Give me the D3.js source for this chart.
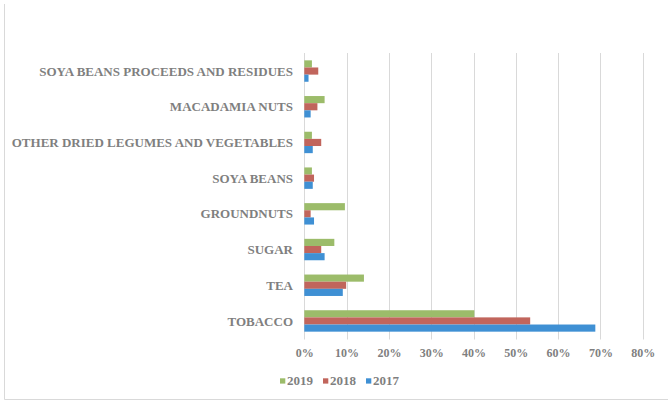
<!DOCTYPE html>
<html>
<head>
<meta charset="utf-8">
<script src="https://cdn.jsdelivr.net/npm/d3@7"></script>
<style>
  html, body { margin: 0; padding: 0; background: #fff; }
  svg { display: block; }
  text { font-family: "Liberation Serif", "Times New Roman", serif; font-weight: bold; fill: #7f7f7f; }
</style>
</head>
<body>
<svg id="chart" width="668" height="401"></svg>
<script>
// Export shares by commodity (fraction of total), listed top to bottom
const categories = [
  "SOYA BEANS PROCEEDS AND RESIDUES",
  "MACADAMIA NUTS",
  "OTHER DRIED LEGUMES AND VEGETABLES",
  "SOYA BEANS",
  "GROUNDNUTS",
  "SUGAR",
  "TEA",
  "TOBACCO"
];
const years = ["2019", "2018", "2017"];
const values2019 = [0.018, 0.048, 0.018, 0.018, 0.096, 0.071, 0.141, 0.402];
const values2018 = [0.033, 0.031, 0.040, 0.023, 0.015, 0.040, 0.099, 0.534];
const values2017 = [0.010, 0.015, 0.020, 0.020, 0.023, 0.048, 0.091, 0.688];
const tickValues = [0, 0.1, 0.2, 0.3, 0.4, 0.5, 0.6, 0.7, 0.8];
const colors = { "2019": "#9cbc6a", "2018": "#c1655c", "2017": "#3f90d4" };

const seriesByYear = { "2019": values2019, "2018": values2018, "2017": values2017 };
const rows = categories.map((c, i) => ({
  category: c,
  values: years.map(y => ({ year: y, value: seriesByYear[y][i] }))
}));

const svg = d3.select("#chart");

// Chart area frame (left and bottom edges)
svg.append("line").attr("x1", 4.5).attr("x2", 4.5).attr("y1", 4).attr("y2", 399.5)
  .attr("stroke", "#d9d9d9").attr("stroke-width", 1);
svg.append("line").attr("x1", 4.5).attr("x2", 668).attr("y1", 399.5).attr("y2", 399.5)
  .attr("stroke", "#d9d9d9").attr("stroke-width", 1);

const x = d3.scaleLinear().domain([0, 0.8]).range([304.3, 642.7]);
const y0 = d3.scaleBand().domain(categories).range([53.2, 338.8])
  .paddingInner(0.4).paddingOuter(0.2);
const y1 = d3.scaleBand().domain(years).range([0, y0.bandwidth()]);

// Vertical gridlines
svg.append("g").selectAll("line").data(tickValues).join("line")
  .attr("x1", d => Math.round(x(d)) + 0.5).attr("x2", d => Math.round(x(d)) + 0.5)
  .attr("y1", 53).attr("y2", 339.5)
  .attr("stroke", "#d9d9d9").attr("stroke-width", 1);

// Bars
const groups = svg.append("g").selectAll("g").data(rows).join("g")
  .attr("transform", d => `translate(0,${y0(d.category)})`);
groups.selectAll("rect").data(d => d.values).join("rect")
  .attr("x", x(0))
  .attr("y", d => y1(d.year))
  .attr("width", d => x(d.value) - x(0))
  .attr("height", y1.bandwidth())
  .attr("fill", d => colors[d.year]);

// Category labels
svg.append("g").selectAll("text").data(categories).join("text")
  .attr("x", 293)
  .attr("y", d => y0(d) + y0.bandwidth() / 2)
  .attr("dy", "0.35em")
  .attr("text-anchor", "end")
  .style("font-size", "13px")
  .text(d => d);

// Percent axis labels
const xAxis = d3.axisBottom(x).tickValues(tickValues).tickFormat(d3.format(".0%")).tickSize(0).tickPadding(0);
const ax = svg.append("g").attr("transform", "translate(0,357)").call(xAxis);
ax.select(".domain").remove();
ax.selectAll("text").attr("dy", null).attr("y", 0)
  .style("font-size", "12px")
  .style("font-family", "'Liberation Serif', serif")
  .attr("fill", "#7f7f7f");

// Legend
const legendItems = [
  { year: "2019", sx: 280 },
  { year: "2018", sx: 323 },
  { year: "2017", sx: 366 }
];
const lg = svg.append("g").selectAll("g").data(legendItems).join("g");
lg.append("rect").attr("x", d => d.sx).attr("y", 378.3).attr("width", 5.3).attr("height", 5.3)
  .attr("fill", d => colors[d.year]);
lg.append("text").attr("x", d => d.sx + 7).attr("y", 384.5)
  .style("font-size", "13px").text(d => d.year);
</script>
</body>
</html>
